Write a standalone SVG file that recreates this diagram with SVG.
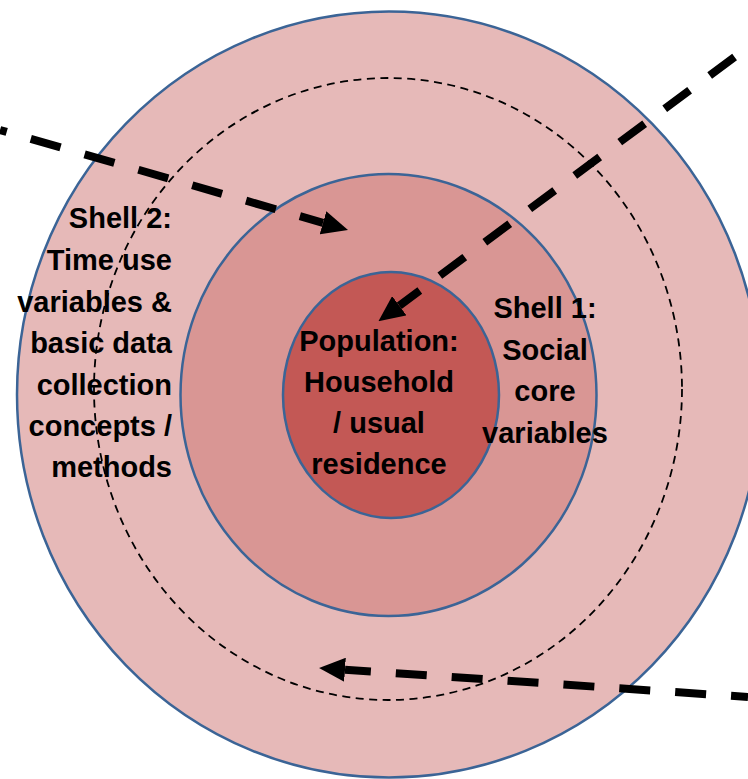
<svg xmlns="http://www.w3.org/2000/svg" width="748" height="779" viewBox="0 0 748 779">
  <defs>
    <style>
      .shell { stroke: #3B6496; stroke-width: 2.5; }
      .ring { fill: none; stroke: #000; stroke-width: 1.8; stroke-dasharray: 8 5.5; }
      .lbl { font-family: "Liberation Sans", Arial, sans-serif; font-weight: bold; font-size: 29px; fill: #000; }
      .end { text-anchor: end; }
      .mid { text-anchor: middle; }
      .conn { fill: none; stroke: #000; stroke-width: 8; stroke-dasharray: 31 25; marker-end: url(#ah); }
    </style>
    <marker id="ah" viewBox="0 0 26 24" refX="0" refY="12" markerWidth="26" markerHeight="24" markerUnits="userSpaceOnUse" orient="auto">
      <path d="M0,0 L26,12 L0,24 z" fill="#000"/>
    </marker>
  </defs>

  <g id="shell2">
    <ellipse class="shell" cx="389" cy="394.5" rx="372" ry="383" fill="#E6B9B8"/>
    <ellipse class="ring" cx="388" cy="389" rx="294" ry="311"/>
    <text class="lbl end" x="172" y="228">Shell 2:</text>
    <text class="lbl end" x="172" y="270">Time use</text>
    <text class="lbl end" x="172" y="311.5">variables &amp;</text>
    <text class="lbl end" x="172" y="353">basic data</text>
    <text class="lbl end" x="172" y="394.5">collection</text>
    <text class="lbl end" x="172" y="436">concepts /</text>
    <text class="lbl end" x="172" y="477">methods</text>
  </g>

  <g id="shell1">
    <ellipse class="shell" cx="388.5" cy="395" rx="208" ry="221" fill="#D99694"/>
  </g>

  <g id="population">
    <ellipse class="shell" cx="391" cy="395" rx="108" ry="123" fill="#C35855"/>
    <text class="lbl mid" x="379" y="350.5">Population:</text>
    <text class="lbl mid" x="379" y="391.5">Household</text>
    <text class="lbl mid" x="379" y="432.5">/ usual</text>
    <text class="lbl mid" x="379" y="473.5">residence</text>
  </g>

  <g id="shell1-label">
    <text class="lbl mid" x="545" y="318">Shell 1:</text>
    <text class="lbl mid" x="545" y="360">Social</text>
    <text class="lbl mid" x="545" y="401">core</text>
    <text class="lbl mid" x="545" y="443">variables</text>
  </g>

  <g id="connectors">
    <path class="conn" d="M0,130 L323,222.8" stroke-dashoffset="24"/>
    <path class="conn" d="M748,47 L399.3,305.7" stroke-dashoffset="39.3"/>
    <path class="conn" d="M748,697 L345,669.8" stroke-dashoffset="14"/>
  </g>
</svg>
